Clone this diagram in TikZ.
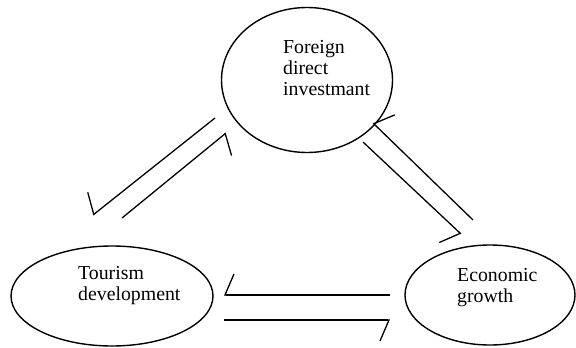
\documentclass[tikz,border=0pt]{standalone}
\usepackage{fontspec}
\setmainfont{Liberation Serif}
\usetikzlibrary{arrows.meta,shapes.geometric,positioning}

\tikzset{
  bubble/.style={draw, ellipse, line width=1.4pt, inner sep=0pt},
  lbl/.style={align=left, inner sep=0pt, anchor=base west, font=\fontsize{19.8}{21}\selectfont},
  half/.style={line width=1.3pt, -{Straight Barb[right, length=9pt, width=42pt]}},
}

\begin{document}
\begin{tikzpicture}[x=1pt,y=-1pt]
   \useasboundingbox (0,0) rectangle (576,348);

   %% Ellipsen
   \node[bubble, minimum width=171pt, minimum height=145pt] (fdi) at (307,80) {};
   \node[bubble, minimum width=202pt, minimum height=100pt] (tour) at (112,296) {};
   \node[bubble, minimum width=170pt, minimum height=100pt] (econ) at (490,295) {};

   %% Beschriftung (Grundlinie der letzten Zeile)
   \node[lbl] (fdilbl) at (283,95) {Foreign\\direct\\investmant};
   \node[lbl] (tourlbl) at (78,300) {Tourism\\development};
   \node[lbl] (econlbl) at (457,302) {Economic\\growth};

   %% Endpunkte
   \coordinate (fdiTa) at (215,118);
   \coordinate (tourA) at (93,215);
   \coordinate (tourB) at (122,218);
   \coordinate (fdiTb) at (226,133);
   \coordinate (econC) at (473,220);
   \coordinate (fdiEc) at (373,123);
   \coordinate (fdiEd) at (363,142);
   \coordinate (econD) at (461,234);
   \coordinate (econE) at (390,295);
   \coordinate (tourE) at (224,295);
   \coordinate (tourF) at (224,320);
   \coordinate (econF) at (390,320);

   %% Pfeile
   \draw[half] (fdiTa) -- (tourA);
   \draw[half] (tourB) -- (fdiTb);
   \draw[half] (econC) -- (fdiEc);
   \draw[half] (fdiEd) -- (econD);
   \draw[half] (econE) -- (tourE);
   \draw[half] (tourF) -- (econF);
\end{tikzpicture}
\end{document}
